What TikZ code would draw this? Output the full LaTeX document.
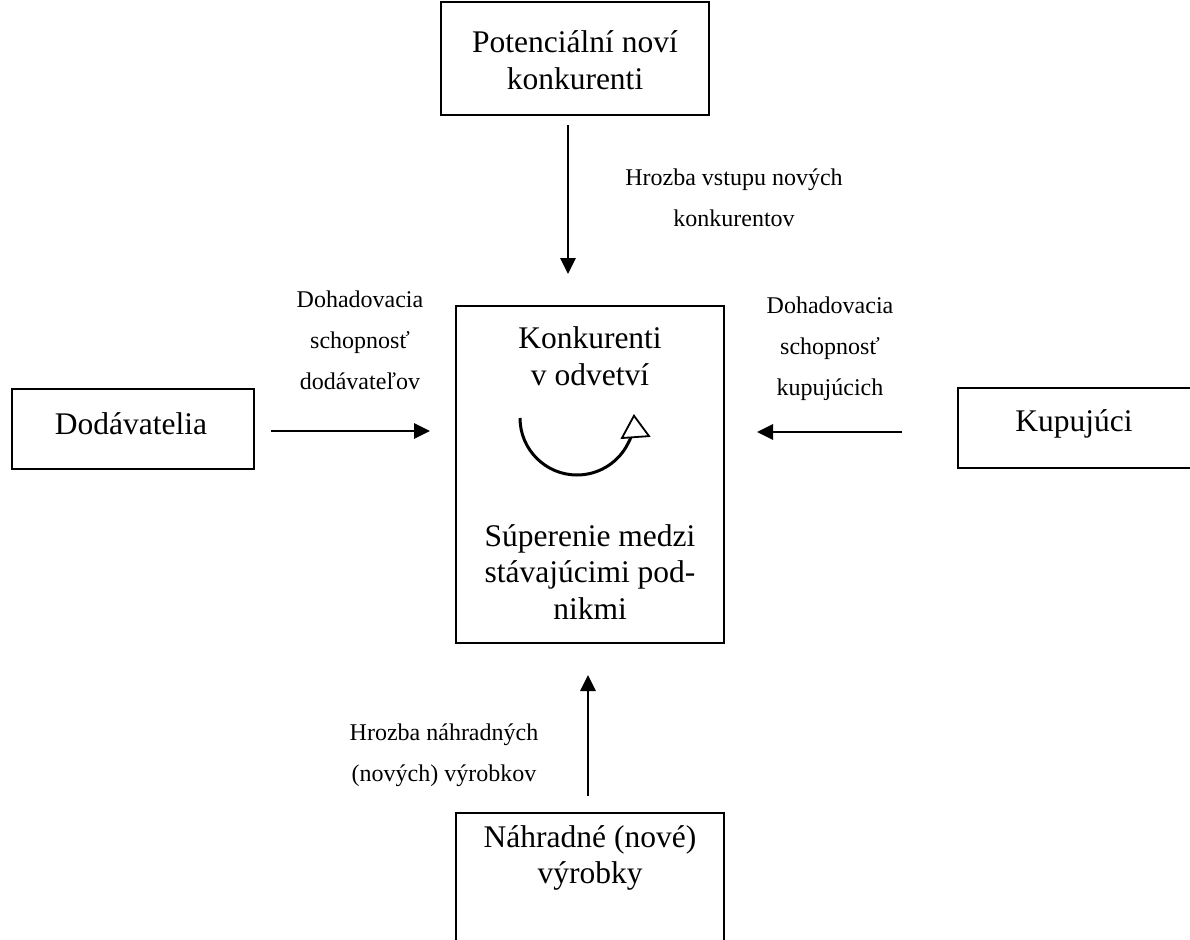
\documentclass[tikz,border=0pt]{standalone}
\usepackage{fontspec}
\setmainfont{Liberation Serif}
\usetikzlibrary{arrows.meta}
\begin{document}
\begin{tikzpicture}[x=1pt,y=-1pt,
  box/.style={draw, line width=1.6pt},
  big/.style={font=\fontsize{31.5}{36.5}\selectfont, align=center, inner sep=0pt},
  small/.style={font=\fontsize{24}{41}\selectfont, align=center, inner sep=0pt},
  arr/.style={line width=2.8pt, -{Triangle[length=16pt,width=15pt]}}]
\useasboundingbox (0,0) rectangle (1190,939);
% boxes
\draw[box] (441,2) rectangle (709,115);
\node[big] (topt) at (575,60) {Potenciální noví\\konkurenti};
\draw[box] (456,306) rectangle (724,643);
\node[big] (ct) at (590,356) {Konkurenti\\v odvetví};
\node[big] (cb) at (590,572) {Súperenie medzi\\stávajúcimi pod-\\nikmi};
\draw[box] (12,389) rectangle (254,469);
\node[big] (dod) at (131,424) {Dodávatelia};
\draw[box] (958,388) rectangle (1200,468);
\node[big] (kup) at (1074,424) {Kupujúci};
\draw[box] (456,813) rectangle (724,960);
\node[big] (nah) at (590,858) {Náhradné (nové)\\výrobky};
% arrow end points
\coordinate (t1) at (568,125); \coordinate (t2) at (568,274);
\coordinate (l1) at (271,431); \coordinate (l2) at (430,431);
\coordinate (r1) at (902,432); \coordinate (r2) at (757,432);
\coordinate (b1) at (588,796); \coordinate (b2) at (588,675);
\draw[arr] (t1) -- (t2);
\draw[arr] (l1) -- (l2);
\draw[arr] (r1) -- (r2);
\draw[arr] (b1) -- (b2);
% labels
\node[small] (lt) at (734,198) {Hrozba vstupu nových\\konkurentov};
\node[small] (ll) at (360,340) {Dohadovacia\\schopnosť\\dodávateľov};
\node[small] (lr) at (830,349) {Dohadovacia\\schopnosť\\kupujúcich};
\node[small] (lb) at (444,755) {Hrozba náhradných\\(nových) výrobkov};
% rotation arc
\coordinate (ac) at (577,418);
\draw[line width=3pt, -{Triangle[open,fill=white,length=24pt,width=30pt,line width=1.8pt]}]
  ([shift={(180:57)}]ac) arc[start angle=180,end angle=-4,radius=57];
\end{tikzpicture}
\end{document}
